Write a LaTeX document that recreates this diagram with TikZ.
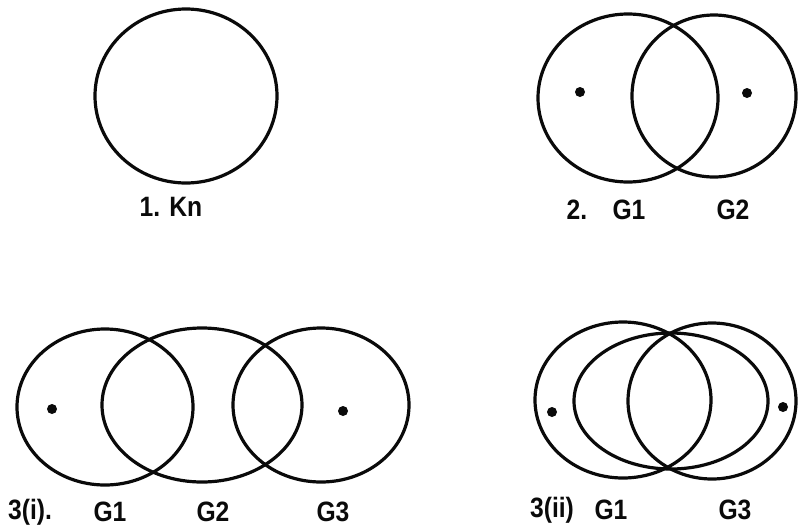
\documentclass[tikz,border=0pt]{standalone}
\usepackage{fontspec}
\newfontfamily\tagfont{Liberation Sans}[FakeStretch=0.88]
\definecolor{ink}{RGB}{10, 10, 10}
\usepackage{tikz}
\usetikzlibrary{positioning}
\tikzset{
  ring/.style={draw=ink, line width=3.2pt},
  blob/.style={fill=ink},
  tag/.style={font=\tagfont\bfseries\fontsize{28}{32}\selectfont, text=ink, inner sep=0pt}
}

\begin{document}
\begin{tikzpicture}[x=1pt, y=-1pt]
  \useasboundingbox (0,0) rectangle (798,528);
  % 1. complete graph
  \draw[ring] (186,96) ellipse (91 and 87);
  \node[tag] (kn) at (171,207) {1. Kn};
  % 2. two graphs
  \draw[ring] (628,98) ellipse (90 and 84);
  \draw[ring] (714,96) ellipse (82 and 81);
  \fill[blob] (580,92) circle (5);
  \fill[blob] (747,93) circle (5);
  \node[tag] (two) at (577,210) {2.};
  \node[tag] (g1a) at (629,210) {G1};
  \node[tag] (g2a) at (733,210) {G2};
  % 3(i) chain of three
  \draw[ring] (105,407) ellipse (88 and 78);
  \draw[ring] (202,405) ellipse (100 and 77);
  \draw[ring] (321,405) ellipse (88 and 77);
  \fill[blob] (52,409) circle (5);
  \fill[blob] (343,411) circle (5);
  \node[tag] (three) at (30,512) {3(i).};
  \node[tag] (g1b) at (110,512) {G1};
  \node[tag] (g2b) at (213,512) {G2};
  \node[tag] (g3b) at (333,512) {G3};
  % 3(ii) nested
  \draw[ring] (623,400) ellipse (88 and 78);
  \draw[ring] (671,401) ellipse (97 and 68);
  \draw[ring] (712,401) ellipse (84 and 78);
  \fill[blob] (552,412) circle (5);
  \fill[blob] (783,407) circle (5);
  \node[tag] (four) at (552,510) {3(ii)};
  \node[tag] (g1c) at (611,510) {G1};
  \node[tag] (g3c) at (735,510) {G3};
\end{tikzpicture}
\end{document}
